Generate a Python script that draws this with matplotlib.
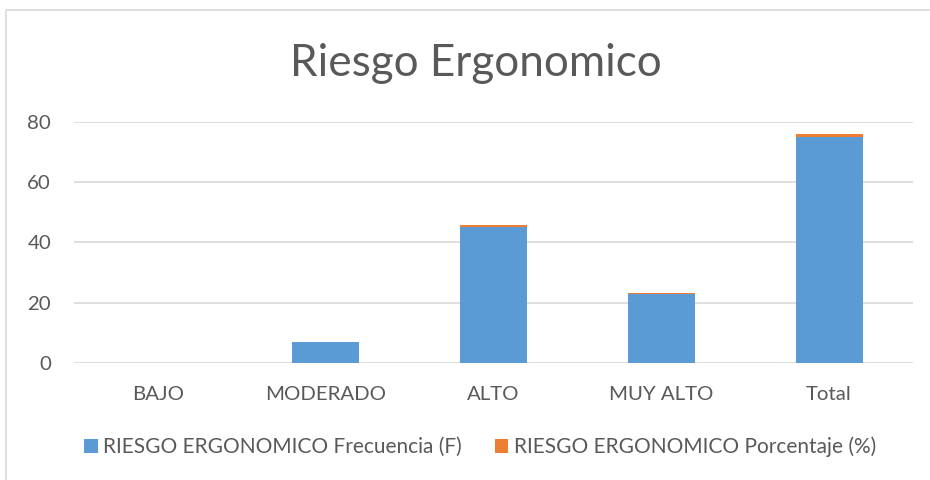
import matplotlib
matplotlib.use("Agg")
import matplotlib.pyplot as plt
from matplotlib.patches import Rectangle, Patch

categories = ["BAJO", "MODERADO", "ALTO", "MUY ALTO", "Total"]
frecuencia = [0, 7, 45, 23, 75]
porcentaje = [0.0, 0.09, 0.6, 0.31, 1.0]
yticks = [0, 20, 40, 60, 80]
title = "Riesgo Ergonomico"
labels = ["RIESGO ERGONOMICO Frecuencia (F)", "RIESGO ERGONOMICO Porcentaje (%)"]

BLUE = "#5B9BD5"
ORANGE = "#ED7D31"
TXT = "#595959"
GRID = "#D9D9D9"

plt.rcParams['font.family'] = ['Lato', 'DejaVu Sans']

W, H = 930, 480
fig = plt.figure(figsize=(W / 100, H / 100), dpi=100)
fig.patch.set_facecolor("white")

# outer chart border (only left and top visible in the image)
fig.add_artist(Rectangle((5.5 / W, -0.1), 2.0, (H - 9.5) / H + 0.1,
                         transform=fig.transFigure, fill=False,
                         edgecolor=GRID, linewidth=1.2))

ax = fig.add_axes([74 / W, 1 - 363 / H, (913 - 74) / W, (363 - 121.7) / H])
x = list(range(len(categories)))
ax.bar(x, frecuencia, width=0.4, color=BLUE, zorder=3)
ax.bar(x, porcentaje, width=0.4, bottom=frecuencia, color=ORANGE, zorder=3)

ax.set_xlim(-0.5, len(categories) - 0.5)
ax.set_ylim(0, 80)
ax.set_yticks(yticks)
ax.set_yticklabels([str(v) for v in yticks], fontsize=14.7, color=TXT)
ax.set_xticks(x)
ax.set_xticklabels(categories, fontsize=14.7, color=TXT)
ax.tick_params(axis='both', length=0)
ax.tick_params(axis='y', pad=16.5)
ax.tick_params(axis='x', pad=16.5)
for s in ax.spines.values():
    s.set_visible(False)
ax.grid(axis='y', color=GRID, linewidth=1.2, zorder=0)
ax.set_axisbelow(True)

fig.text(476 / W, 1 - 64 / H, title, ha='center', va='center', fontsize=31.7, color=TXT)

handles = [Patch(facecolor=BLUE), Patch(facecolor=ORANGE)]
fig.legend(handles, labels, loc='center', bbox_to_anchor=(480 / W, 1 - 447 / H),
           ncol=2, frameon=False, fontsize=15, labelcolor=TXT,
           handlelength=0.65, handleheight=0.65, handletextpad=0.25, columnspacing=1.6)

fig.savefig("out.png", dpi=100)
